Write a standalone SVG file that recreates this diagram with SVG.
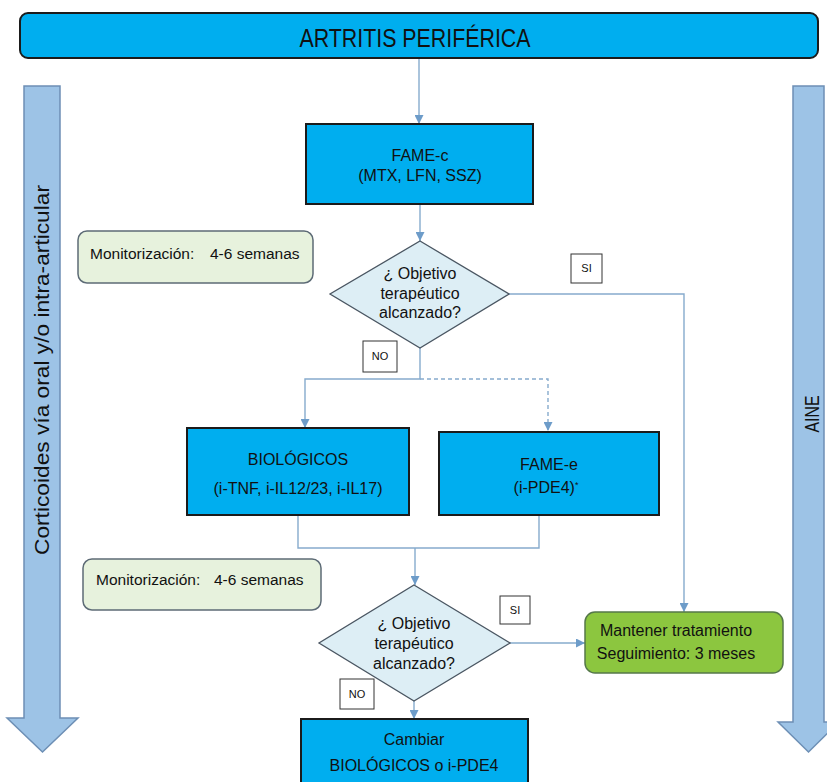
<svg xmlns="http://www.w3.org/2000/svg" width="827" height="782" viewBox="0 0 827 782">
<defs>
<marker id="ah" viewBox="0 0 10 10" refX="10" refY="5" markerWidth="9" markerHeight="9" markerUnits="userSpaceOnUse" orient="auto"><path d="M0,0 L10,5 L0,10 z" fill="#6d9cc9"/></marker>
<style>
.t{font-family:"Liberation Sans",Arial,sans-serif;fill:#111;text-anchor:middle}
.m{font-size:16px}
.s{font-size:11px}
.blue{fill:#00aeef;stroke:#1b1b1b;stroke-width:2}
.dia{fill:#ddeef5;stroke:#4a5662;stroke-width:1.3}
.mon{fill:#e7f2dd;stroke:#5d6b76;stroke-width:1.5}
.lab{fill:#fff;stroke:#333;stroke-width:1}
.side{fill:#9dc3e6;stroke:#6d8fb5;stroke-width:1.5}
.c{fill:none;stroke:#86abcd;stroke-width:1.4}
</style>
</defs>
<rect width="827" height="782" fill="#fff"/>

<g id="side-left">
<polygon class="side" points="24,86 60,86 60,718 78,718 42.5,752 7,718 24,718"/>
<text class="t" transform="translate(49,370) rotate(-90)" font-size="21" textLength="370" lengthAdjust="spacingAndGlyphs">Corticoides vía oral y/o intra-articular</text>
</g>
<g id="side-right">
<polygon class="side" points="793,86 824,86 824,722 839,722 808.5,752 778,722 793,722"/>
<text class="t" transform="translate(819,414) rotate(-90)" font-size="20" textLength="37" lengthAdjust="spacingAndGlyphs">AINE</text>
</g>

<g id="connectors">
<line class="c" x1="419" y1="58" x2="419" y2="124" marker-end="url(#ah)"/>
<line class="c" x1="420" y1="204" x2="420" y2="241" marker-end="url(#ah)"/>
<polyline class="c" points="509,294 684,294 684,612" marker-end="url(#ah)"/>
<polyline class="c" points="420,348 420,379 305,379 305,428" marker-end="url(#ah)"/>
<polyline class="c" points="420,379 548,379 548,431" stroke-dasharray="4,3" marker-end="url(#ah)"/>
<polyline class="c" points="298,515 298,548 539,548 539,515"/>
<line class="c" x1="415" y1="548" x2="415" y2="585" marker-end="url(#ah)"/>
<line class="c" x1="510" y1="643" x2="585" y2="643" marker-end="url(#ah)"/>
<line class="c" x1="414" y1="701" x2="414" y2="719" marker-end="url(#ah)"/>
</g>

<g id="top">
<rect class="blue" x="20" y="13" width="798" height="45" rx="8"/>
<text class="t" x="415" y="47" font-size="26" textLength="231" lengthAdjust="spacingAndGlyphs">ARTRITIS PERIFÉRICA</text>
</g>

<g id="fame-c">
<rect class="blue" x="306" y="124" width="227" height="80"/>
<text class="t m" x="420" y="161">FAME-c</text>
<text class="t m" x="420" y="181">(MTX, LFN, SSZ)</text>
</g>

<g id="mon1">
<rect class="mon" x="78" y="231" width="235" height="52" rx="9"/>
<text class="t" x="90" y="259" font-size="15.5" text-anchor="start" style="text-anchor:start">Monitorización:</text>
<text class="t" x="210" y="259" font-size="15.5" style="text-anchor:start">4-6 semanas</text>
</g>

<g id="dec1">
<polygon class="dia" points="420,241 509,294 420,348 330,294"/>
<text class="t m" x="420" y="279">¿ Objetivo</text>
<text class="t m" x="420" y="299">terapéutico</text>
<text class="t m" x="420" y="318">alcanzado?</text>
</g>

<g id="si1">
<rect class="lab" x="571" y="254" width="31" height="29"/>
<text class="t s" x="586.5" y="272">SI</text>
</g>
<g id="no1">
<rect class="lab" x="363" y="341" width="34" height="31"/>
<text class="t s" x="380" y="360">NO</text>
</g>

<g id="biologicos">
<rect class="blue" x="187" y="428" width="222" height="87"/>
<text class="t m" x="298" y="465">BIOLÓGICOS</text>
<text class="t m" x="298" y="494">(i-TNF, i-IL12/23, i-IL17)</text>
</g>

<g id="fame-e">
<rect class="blue" x="439" y="432" width="220" height="83"/>
<text class="t m" x="549" y="470">FAME-e</text>
<text class="t m" x="546" y="493">(i-PDE4)<tspan font-size="9" dy="-5">*</tspan></text>
</g>

<g id="mon2">
<rect class="mon" x="83" y="559" width="238" height="51" rx="9"/>
<text class="t" x="96" y="585" font-size="15.5" style="text-anchor:start">Monitorización:</text>
<text class="t" x="214" y="585" font-size="15.5" style="text-anchor:start">4-6 semanas</text>
</g>

<g id="dec2">
<polygon class="dia" points="414,585 510,643 414,701 319,643"/>
<text class="t m" x="414" y="629">¿ Objetivo</text>
<text class="t m" x="414" y="649">terapéutico</text>
<text class="t m" x="414" y="669">alcanzado?</text>
</g>

<g id="si2">
<rect class="lab" x="500" y="596" width="30" height="28"/>
<text class="t s" x="515" y="614">SI</text>
</g>
<g id="no2">
<rect class="lab" x="340" y="679" width="34" height="30"/>
<text class="t s" x="357" y="698">NO</text>
</g>

<g id="mantener">
<rect x="585" y="612" width="198" height="61" rx="10" fill="#8cc63f" stroke="#55784a" stroke-width="1.5"/>
<text class="t m" x="676" y="636">Mantener tratamiento</text>
<text class="t m" x="676" y="659">Seguimiento: 3 meses</text>
</g>

<g id="cambiar">
<rect class="blue" x="301" y="719" width="227" height="75"/>
<text class="t m" x="414" y="745">Cambiar</text>
<text class="t m" x="414" y="771">BIOLÓGICOS o i-PDE4</text>
</g>
</svg>
